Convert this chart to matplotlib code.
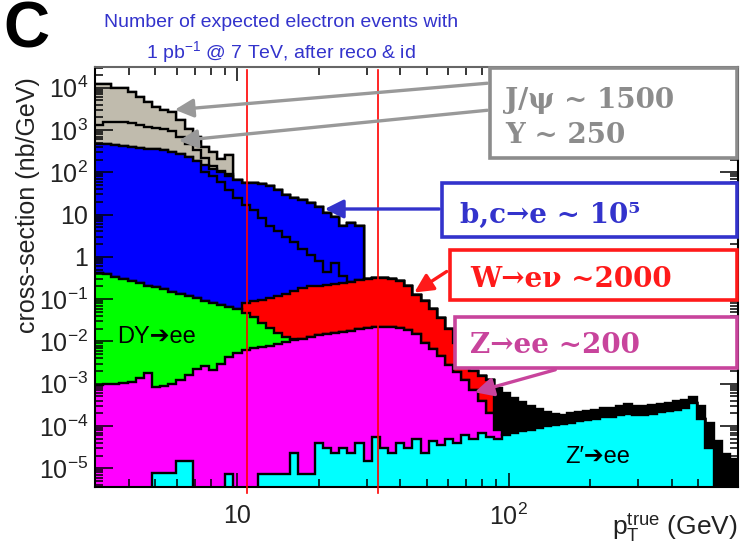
import numpy as np
import matplotlib
matplotlib.use('Agg')
import matplotlib.pyplot as plt
from matplotlib.patches import Rectangle, FancyArrowPatch
from matplotlib.ticker import FixedLocator, LogLocator, NullFormatter

plt.rcParams['font.family'] = ['Liberation Sans', 'DejaVu Sans']
plt.rcParams['mathtext.default'] = 'regular'

# pT binning (GeV)
n_bins = 79
edges = np.geomspace(3., 700., n_bins + 1)

# top of each stacked layer (nb/GeV): (first bin, values)
jpsi_top = (0, [12300, 12000, 9700, 9700, 7800, 6000, 4600, 3600, 3000, 2700,
                1700, 1050, 700, 400, 300, 210, 250])
ups_top = (0, [1320, 1560, 1580, 1560, 1450, 1300, 1200, 1100, 1080, 950,
               680, 470, 340, 220, 140, 105, 92])
hf_top = (0, [480, 460, 445, 425, 405, 385, 365, 350, 330, 300,
              265, 230, 190, 145, 120, 100, 80, 66, 57, 55,
              52, 48, 38, 29, 25, 22, 19, 15, 11, 9,
              5.5, 6.5, 5.5])
hf_inner_top = (0, [480, 460, 445, 425, 405, 385, 365, 350, 330, 300,
                    265, 230, 185, 100, 80, 58, 38, 25, 17, 12.5,
                    8.5, 5.5, 4, 3, 2.2, 1.5, 1.1, 0.8, 0.45, 0.7,
                    0.35, 0.26])
w_top = (18, [0.08, 0.088, 0.095, 0.105, 0.12, 0.135, 0.16, 0.18, 0.2, 0.21,
              0.22, 0.23, 0.24, 0.26, 0.28, 0.30, 0.31, 0.31, 0.30, 0.27,
              0.2, 0.125, 0.09, 0.058, 0.035, 0.02, 0.009, 0.003, 0.002, 0.0015,
              0.0012])
dy_top = (0, [0.41, 0.39, 0.34, 0.3, 0.27, 0.24, 0.21, 0.19, 0.17, 0.15,
              0.135, 0.12, 0.105, 0.09, 0.08, 0.073, 0.066, 0.06, 0.048, 0.038,
              0.028, 0.021, 0.016, 0.0125, 0.0115])
z_top = (0, [0.00094, 0.00097, 0.001, 0.00105, 0.0011, 0.00135, 0.0018, 0.00085, 0.0009, 0.001,
             0.0012, 0.0016, 0.0022, 0.0026, 0.0021, 0.003, 0.0042, 0.0053, 0.0062, 0.0069,
             0.0074, 0.0078, 0.0088, 0.0098, 0.0107, 0.0115, 0.0125, 0.014, 0.015, 0.016,
             0.0168, 0.018, 0.0195, 0.021, 0.022, 0.0225, 0.022, 0.0205, 0.019, 0.015,
             0.009, 0.0065, 0.0045, 0.0027, 0.0019, 0.0012, 0.0007, 0.0004, 0.0002, 0.00008])
zprime_top = (7, [7.7e-6, 7.7e-6, 7.7e-6, 1.45e-5, 1.45e-5, 0, 0, 0, 0, 7.5e-6,
                  0, 0, 0, 7.5e-6, 7.5e-6, 7.5e-6, 7.5e-6, 2.3e-5, 7.5e-6, 7.5e-6,
                  4e-5, 3e-5, 2.3e-5, 3e-5, 2.3e-5, 4e-5, 1.5e-5, 5.6e-5, 3e-5, 2.3e-5,
                  4e-5, 3e-5, 5e-5, 2.3e-5, 4.5e-5, 3.5e-5, 5e-5, 4e-5, 6e-5, 5e-5,
                  7e-5, 5.5e-5, 5e-5, 6e-5, 7e-5, 7.5e-5, 8e-5, 9e-5, 1.0e-4, 1.05e-4,
                  1.1e-4, 1.2e-4, 1.28e-4, 1.4e-4, 1.5e-4, 1.6e-4, 1.65e-4, 1.8e-4, 1.95e-4, 1.85e-4,
                  1.8e-4, 1.95e-4, 2.15e-4, 2.25e-4, 2.4e-4, 2.6e-4, 3.5e-4, 1.5e-4, 3e-5])
# outline of the whole stack in the low-statistics high-pT tail
tail_top = (49, [8e-4, 6e-4, 4.5e-4, 3.6e-4, 3e-4, 2.5e-4, 2.1e-4, 1.9e-4, 1.8e-4, 2e-4,
                 2.1e-4, 2.3e-4, 2.4e-4, 2.6e-4, 2.7e-4, 3e-4, 3.4e-4, 3e-4, 2.9e-4, 3.1e-4,
                 3.3e-4, 3.5e-4, 3.8e-4, 4.1e-4, 4.9e-4, 3e-4, 1.2e-4, 4.5e-5, 2.2e-5, 1.7e-5])

gray = '#c0bbad'
layers = [(zprime_top, '#00ffff'), (z_top, '#ff00ff'), (dy_top, '#00ff00'),
          (w_top, '#ff0000'), (hf_inner_top, '#0000ff'), (hf_top, '#0000ff'),
          (ups_top, gray), (jpsi_top, gray), (tail_top, 'black')]

cuts = [10.9, 33.]

xtick_vals = [10, 100]
xtick_labels = ['10', '$10^{2}$']
ytick_vals = [1e-5, 1e-4, 1e-3, 1e-2, 1e-1, 1, 10, 1e2, 1e3, 1e4]
ytick_labels = ['$10^{-5}$', '$10^{-4}$', '$10^{-3}$', '$10^{-2}$', '$10^{-1}$',
                '1', '10', '$10^{2}$', '$10^{3}$', '$10^{4}$']

W, H = 742, 548
fig = plt.figure(figsize=(W / 100, H / 100), dpi=100)
ax = fig.add_axes([95 / W, 1 - 487 / H, (738 - 95) / W, (487 - 67) / H])

floor = 1e-7
level = np.full(n_bins, floor)
levels = []
for (start, vals), col in layers:
    arr = np.full(n_bins, np.nan)
    arr[start:start + len(vals)] = vals
    level = np.where(np.isnan(arr), level, np.maximum(arr, level))
    levels.append((level, col))

for lvl, col in reversed(levels):
    ax.stairs(lvl, edges, baseline=floor, fill=True, color=col, lw=0)
    ax.stairs(lvl, edges, baseline=None, color='black', lw=1.7)

for c in cuts:
    ax.axvline(c, ymin=-0.015, ymax=0.993, color='red', lw=1.2, clip_on=False, zorder=5)

ax.set_xscale('log')
ax.set_yscale('log')
ax.set_xlim(3, 700)
ax.set_ylim(3.6e-6, 3.1e4)
ax.xaxis.set_major_locator(FixedLocator(xtick_vals))
ax.xaxis.set_ticklabels(xtick_labels)
ax.yaxis.set_major_locator(FixedLocator(ytick_vals))
ax.yaxis.set_ticklabels(ytick_labels)
for axis in (ax.xaxis, ax.yaxis):
    axis.set_minor_locator(LogLocator(base=10, subs=np.arange(2, 10), numticks=30))
    axis.set_minor_formatter(NullFormatter())
ax.tick_params(which='both', direction='in', top=True, right=True, labelsize=18,
               labelcolor='#222222', width=1.1)
ax.tick_params(axis='x', which='major', length=10, pad=12)
ax.tick_params(axis='x', which='minor', length=5.5)
ax.tick_params(axis='y', which='major', length=13, pad=5)
ax.tick_params(axis='y', which='minor', length=6)
for s in ax.spines.values():
    s.set_linewidth(1.5)
ax.spines['top'].set_color('#666666')

def fxy(px, py):
    return (px / W, 1 - py / H)

# titles and axis labels
fig.text(*fxy(3, 47), 'C', fontsize=46, fontweight='bold', va='baseline')
fig.text(*fxy(281, 27), 'Number of expected electron events with', fontsize=14,
         color='#3333cc', ha='center', va='baseline')
fig.text(*fxy(281, 58), '1 pb$^{-1}$ @ 7 TeV, after reco & id', fontsize=14,
         color='#3333cc', ha='center', va='baseline')
fig.text(*fxy(28, 205), 'cross-section (nb/GeV)', fontsize=18, color='#222222',
         rotation=90, ha='center', va='center')
fig.text(*fxy(738, 535), r'$p_{T}^{true}$ (GeV)', fontsize=19, color='#222222',
         ha='right', va='baseline')
fig.text(*fxy(117, 343), 'DY➔ee', fontsize=17, va='baseline')
fig.text(*fxy(565, 463), 'Z′➔ee', fontsize=17, va='baseline')

# annotation boxes
boxes = [((490, 68, 737, 158), '#8c8c8c'), ((442, 183, 737, 237), '#3333cc'),
         ((450, 250, 737, 300), '#ff1a1a'), ((455, 317, 737, 368), '#c8449c')]
for (x0, y0, x1, y1), col in boxes:
    fig.add_artist(Rectangle(fxy(x0, y1), (x1 - x0) / W, (y1 - y0) / H,
                             transform=fig.transFigure, facecolor='white',
                             edgecolor=col, lw=2.6))

serif = dict(family='DejaVu Serif', fontweight='bold', fontsize=20, va='baseline')
fig.text(*fxy(505, 108), 'J/ψ ~ 1500', color='#8c8c8c', **serif)
fig.text(*fxy(505, 143), 'Y ~ 250', color='#8c8c8c', **serif)
fig.text(*fxy(460, 223), 'b,c→e ~ 10⁵', color='#3333cc', **serif)
fig.text(*fxy(470, 287), 'W→eν ~2000', color='#ff1a1a', **serif)
fig.text(*fxy(470, 353), 'Z→ee ~200', color='#c8449c', **serif)

arrows = [((490, 83), (172, 110), '#999999'), ((490, 110), (176, 141), '#999999'),
          ((442, 209), (322, 209), '#3333cc'), ((449, 270), (412, 294), '#ff1a1a'),
          ((558, 369), (472, 393), '#c8449c')]
for a, b, col in arrows:
    fig.add_artist(FancyArrowPatch(fxy(*a), fxy(*b), transform=fig.transFigure,
                                   arrowstyle='-|>,head_length=0.7,head_width=0.35',
                                   mutation_scale=16, color=col, lw=2.4))

fig.savefig('out.png', dpi=100)
